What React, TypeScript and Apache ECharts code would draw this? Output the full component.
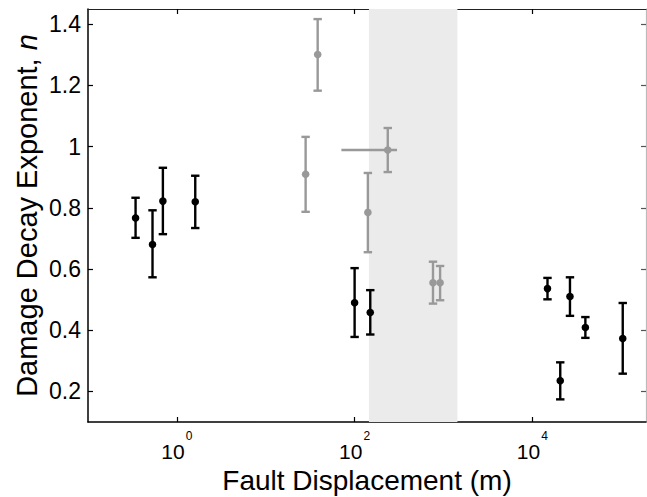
import React, { useEffect, useRef } from "react";
import * as echarts from "echarts";

// Black points (this study / other data)
const blackX = [0.343, 0.532, 0.696, 1.61, 100, 150, 14800, 20600, 26500, 39500, 104000];
const blackY = [0.767, 0.68, 0.822, 0.82, 0.49, 0.458, 0.536, 0.235, 0.51, 0.409, 0.373];
const blackLow = [0.702, 0.573, 0.714, 0.734, 0.378, 0.386, 0.501, 0.174, 0.447, 0.375, 0.258];
const blackHigh = [0.833, 0.792, 0.931, 0.905, 0.603, 0.531, 0.571, 0.295, 0.573, 0.443, 0.489];

// Gray points
const grayX = [28.1, 38.4, 141, 236, 762, 916];
const grayY = [0.91, 1.301, 0.785, 0.989, 0.555, 0.555];
const grayLow = [0.787, 1.183, 0.655, 0.917, 0.487, 0.498];
const grayHigh = [1.032, 1.417, 0.914, 1.061, 0.624, 0.61];
const grayXLow = [null, null, null, 71, null, null];
const grayXHigh = [null, null, null, 300, null, null];

// Shaded displacement band
const bandStart = 145;
const bandEnd = 1436;

const xTicks = [1, 100, 10000];
const yTicks = [0.2, 0.4, 0.6, 0.8, 1, 1.2, 1.4];

const FONT = "Liberation Sans";

function buildRows(xs: number[], ys: number[], lo: number[], hi: number[], xlo?: (number | null)[], xhi?: (number | null)[]) {
  return xs.map((x, i) => [x, ys[i], lo[i], hi[i], xlo ? (xlo[i] ?? NaN) : NaN, xhi ? (xhi[i] ?? NaN) : NaN]);
}

function makeRender(color: string) {
  return (params: any, api: any) => {
    const x = api.value(0);
    const y = api.value(1);
    const lo = api.value(2);
    const hi = api.value(3);
    const xl = api.value(4);
    const xh = api.value(5);
    const c = api.coord([x, y]);
    const top = api.coord([x, hi]);
    const bot = api.coord([x, lo]);
    const cap = 4.2;
    const lw = 2.4;
    const st = { stroke: color, lineWidth: lw };
    const children: any[] = [
      { type: "line", shape: { x1: c[0], y1: top[1], x2: c[0], y2: bot[1] }, style: st },
      { type: "line", shape: { x1: c[0] - cap, y1: top[1], x2: c[0] + cap, y2: top[1] }, style: st },
      { type: "line", shape: { x1: c[0] - cap, y1: bot[1], x2: c[0] + cap, y2: bot[1] }, style: st },
    ];
    if (!isNaN(xl) && !isNaN(xh) && xl > 0 && xh > 0) {
      const l = api.coord([xl, y]);
      const r = api.coord([xh, y]);
      children.push({ type: "line", shape: { x1: l[0], y1: c[1], x2: r[0], y2: c[1] }, style: st });
    }
    children.push({ type: "circle", shape: { cx: c[0], cy: c[1], r: 3.8 }, style: { fill: color } });
    return { type: "group", children };
  };
}

export default function App() {
  const ref = useRef<HTMLDivElement>(null);
  useEffect(() => {
    if (!ref.current) return;
    const chart = echarts.init(ref.current, null, { renderer: "svg" });
    const xMin = 0.1;
    const xMax = 190000;
    const yMin = 0.1;
    const yMax = 1.45;
    const commonX = {
      type: "log" as const,
      logBase: 10,
      min: xMin,
      max: xMax,
      splitLine: { show: false },
      minorTick: { show: false },
    };
    const commonY = {
      type: "value" as const,
      min: yMin,
      max: yMax,
      splitLine: { show: false },
    };
    chart.setOption({
      animation: false,
      backgroundColor: "#ffffff",
      grid: { left: 88, top: 9, right: 1, bottom: 75, containLabel: false, outerBoundsMode: "none" },
      xAxis: [
        {
          ...commonX,
          position: "bottom",
          axisLine: { show: true, onZero: false, lineStyle: { color: "#000", width: 1.5 } },
          axisTick: { show: true, inside: true, length: 5, customValues: xTicks, lineStyle: { color: "#000", width: 1.2 } },
          axisLabel: {
            show: true,
            customValues: xTicks,
            margin: 8,
            formatter: (v: number) => `{b|10}{s|${Math.round(Math.log10(v))}}`,
            rich: {
              b: { fontSize: 21, fontFamily: FONT, color: "#000" },
              s: { fontSize: 12, fontFamily: FONT, color: "#000", padding: [0, 0, 30, 1] },
            },
          },
          name: "Fault Displacement (m)",
          nameLocation: "middle",
          nameGap: 44,
          nameMoveOverlap: false,
          nameTextStyle: { fontSize: 28, fontFamily: FONT, color: "#000" },
        },
        {
          ...commonX,
          position: "top",
          axisLine: { show: true, onZero: false, lineStyle: { color: "#222", width: 1.2 } },
          axisTick: { show: true, inside: true, length: 5, customValues: xTicks, lineStyle: { color: "#000", width: 1.2 } },
          axisLabel: { show: false },
        },
      ],
      yAxis: [
        {
          ...commonY,
          position: "left",
          axisLine: { show: true, onZero: false, lineStyle: { color: "#000", width: 1.5 } },
          axisTick: { show: true, inside: true, length: 5, customValues: yTicks, lineStyle: { color: "#000", width: 1.2 } },
          axisLabel: {
            show: true,
            customValues: yTicks,
            margin: 7,
            fontSize: 23,
            fontFamily: FONT,
            color: "#000",
            formatter: (v: number) => String(Math.round(v * 10) / 10),
          },
          name: "Damage Decay Exponent, {i|n}",
          nameLocation: "middle",
          nameGap: 47,
          nameRotate: 90,
          nameMoveOverlap: false,
          nameTextStyle: {
            fontSize: 29,
            fontFamily: FONT,
            color: "#000",
            rich: { i: { fontSize: 29, fontFamily: FONT, fontStyle: "italic", color: "#000" } },
          },
        },
        {
          ...commonY,
          position: "right",
          axisLine: { show: true, onZero: false, lineStyle: { color: "#bbbbbb", width: 1.2 } },
          axisTick: { show: true, inside: true, length: 5, customValues: yTicks, lineStyle: { color: "#555", width: 1.2 } },
          axisLabel: { show: false },
        },
      ],
      series: [
        {
          type: "custom",
          name: "band",
          xAxisIndex: 0,
          yAxisIndex: 0,
          data: [],
          renderItem: () => ({ type: "group", children: [] }),
          markArea: {
            silent: true,
            itemStyle: { color: "#ebebeb" },
            data: [[{ xAxis: bandStart }, { xAxis: bandEnd }]],
          },
          z: 0,
        },
        {
          type: "custom",
          name: "gray",
          xAxisIndex: 0,
          yAxisIndex: 0,
          data: buildRows(grayX, grayY, grayLow, grayHigh, grayXLow, grayXHigh),
          encode: { x: 0, y: [1, 2, 3] },
          renderItem: makeRender("#999999"),
          z: 2,
        },
        {
          type: "custom",
          name: "black",
          xAxisIndex: 0,
          yAxisIndex: 0,
          data: buildRows(blackX, blackY, blackLow, blackHigh),
          encode: { x: 0, y: [1, 2, 3] },
          renderItem: makeRender("#000000"),
          z: 3,
        },
      ],
    });
    return () => chart.dispose();
  }, []);
  return (
    <div
      ref={ref}
      style={{ position: "absolute", left: 0, top: 0, width: 647, height: 497 }}
    />
  );
}
